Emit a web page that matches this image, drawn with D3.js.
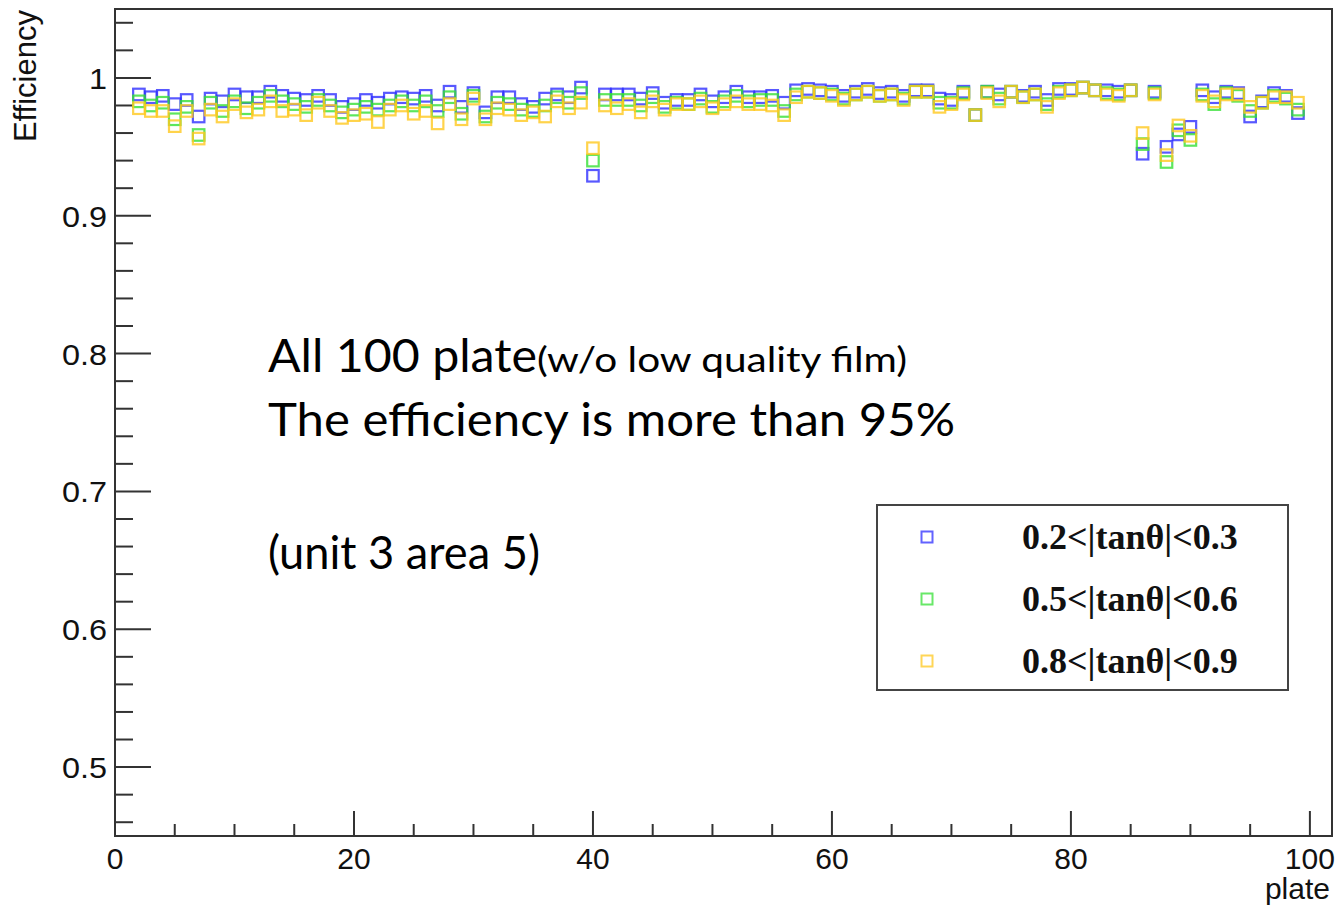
<!DOCTYPE html>
<html><head><meta charset="utf-8">
<script src="https://cdn.jsdelivr.net/npm/d3@7"></script>
<style>
html,body{margin:0;padding:0;background:#fff;}
svg{display:block;}
</style></head>
<body>
<svg id="chart" width="1336" height="909"></svg>
<script>
const plates = [2,3,4,5,6,7,8,9,10,11,12,13,14,15,16,17,18,19,20,21,22,23,24,25,26,27,28,29,30,31,32,33,34,35,36,37,38,39,40,41,42,43,44,45,46,47,48,49,50,51,52,53,54,55,56,57,58,59,60,61,62,63,64,65,66,67,68,69,70,71,72,73,74,75,76,77,78,79,80,81,82,83,84,85,86,87,88,89,90,91,92,93,94,95,96,97,98,99];
const effBlue = [0.988,0.986,0.987,0.981,0.984,0.972,0.985,0.983,0.988,0.986,0.986,0.990,0.987,0.985,0.984,0.987,0.984,0.979,0.981,0.984,0.982,0.985,0.986,0.985,0.987,0.980,0.990,0.979,0.989,0.975,0.986,0.986,0.981,0.979,0.985,0.988,0.986,0.993,0.929,0.988,0.988,0.988,0.985,0.989,0.982,0.984,0.984,0.988,0.983,0.986,0.990,0.986,0.986,0.987,0.982,0.991,0.992,0.991,0.990,0.987,0.990,0.992,0.989,0.990,0.987,0.991,0.991,0.985,0.984,0.990,0.973,0.990,0.988,0.990,0.987,0.990,0.984,0.992,0.992,0.993,0.991,0.991,0.990,0.991,0.945,0.990,0.950,0.959,0.9645,0.991,0.986,0.990,0.989,0.972,0.983,0.989,0.987,0.9745];
const effGreen = [0.983,0.980,0.982,0.970,0.979,0.9586,0.982,0.976,0.983,0.978,0.982,0.987,0.983,0.981,0.979,0.984,0.980,0.975,0.977,0.979,0.977,0.980,0.983,0.980,0.983,0.976,0.986,0.974,0.987,0.972,0.982,0.981,0.977,0.976,0.980,0.986,0.982,0.989,0.940,0.984,0.984,0.984,0.980,0.986,0.979,0.982,0.981,0.985,0.979,0.983,0.987,0.983,0.984,0.984,0.976,0.988,0.990,0.989,0.988,0.985,0.988,0.990,0.987,0.988,0.985,0.990,0.990,0.982,0.982,0.989,0.973,0.990,0.985,0.990,0.986,0.988,0.981,0.990,0.991,0.993,0.991,0.989,0.988,0.991,0.952,0.989,0.939,0.962,0.955,0.988,0.981,0.989,0.987,0.976,0.982,0.987,0.985,0.977];
const effYellow = [0.978,0.976,0.976,0.965,0.976,0.956,0.977,0.972,0.981,0.975,0.977,0.983,0.976,0.977,0.973,0.982,0.976,0.971,0.973,0.974,0.968,0.977,0.980,0.974,0.976,0.967,0.981,0.970,0.985,0.970,0.978,0.977,0.973,0.975,0.972,0.983,0.978,0.982,0.949,0.980,0.978,0.981,0.975,0.983,0.977,0.981,0.981,0.983,0.978,0.981,0.983,0.981,0.981,0.980,0.973,0.986,0.990,0.989,0.987,0.984,0.988,0.990,0.987,0.988,0.984,0.990,0.990,0.979,0.981,0.988,0.973,0.989,0.983,0.990,0.986,0.988,0.979,0.989,0.991,0.993,0.991,0.988,0.987,0.991,0.960,0.988,0.944,0.9655,0.958,0.987,0.983,0.988,0.988,0.979,0.982,0.986,0.986,0.982];
const seriesNames = ["0.2<|tan\u03B8|<0.3","0.5<|tan\u03B8|<0.6","0.8<|tan\u03B8|<0.9"];
const seriesColors = ["#2e2eff","#35e035","#ffc81e"];
const xTicks = [0,20,40,60,80,100];
const yTicks = [0.5,0.6,0.7,0.8,0.9,1];
const yTickLabels = ["0.5","0.6","0.7","0.8","0.9","1"];

const svg = d3.select("#chart");
const L = 115, R = 1332, T = 9, B = 836;
const x = d3.scaleLinear().domain([0,101.85]).range([L,R]);
const y = d3.scaleLinear().domain([0.45,1.05]).range([B,T]);
const axisColor = "#333";

// frame
svg.append("rect").attr("x",L).attr("y",T).attr("width",R-L).attr("height",B-T)
  .attr("fill","none").attr("stroke",axisColor).attr("stroke-width",2);

// x ticks (inside, upward)
const xMinor = d3.range(0,101,5);
svg.append("g").selectAll("line").data(xMinor).join("line")
  .attr("x1",d=>x(d)).attr("x2",d=>x(d)).attr("y1",B)
  .attr("y2",d=>B-(d%20===0?25:12)).attr("stroke",axisColor).attr("stroke-width",2);
// y ticks (inside, rightward)
const yMinor = d3.range(0,31).map(i=>0.46+i*0.02).filter(v=>v<=1.05);
svg.append("g").selectAll("line").data(yMinor).join("line")
  .attr("y1",d=>y(d)).attr("y2",d=>y(d)).attr("x1",L)
  .attr("x2",d=>L+(Math.abs(Math.round(d*10)-d*10)<1e-6?36:18)).attr("stroke",axisColor).attr("stroke-width",2);

const tickFont = "'Liberation Sans', Arial, sans-serif";
svg.append("g").selectAll("text").data(xTicks).join("text")
  .attr("x",d=>x(d)).attr("y",869).attr("text-anchor","middle")
  .attr("font-family",tickFont).attr("font-size",30).attr("fill","#111")
  .text(d=>d);
svg.append("g").selectAll("text").data(yTicks).join("text")
  .attr("x",107).attr("y",d=>y(d)+11).attr("text-anchor","end")
  .attr("font-family",tickFont).attr("font-size",30).attr("fill","#111")
  .style("transform-box","fill-box").style("transform-origin","right").style("transform","scaleX(1.08)")
  .text((d,i)=>yTickLabels[i]);
svg.append("text").attr("x",1330).attr("y",899).attr("text-anchor","end")
  .attr("font-family",tickFont).attr("font-size",30).attr("fill","#111")
  .text("plate");
svg.append("text").attr("transform","translate(36,10) rotate(-90)").attr("text-anchor","end")
  .attr("font-family",tickFont).attr("font-size",31).attr("fill","#111")
  .text("Efficiency");

// markers
const allSeries = [effBlue, effGreen, effYellow];
const ms = 11.5;
allSeries.forEach((vals,si)=>{
  svg.append("g").selectAll("rect").data(plates.map((p,i)=>({p, v:vals[i]}))).join("rect")
    .attr("x",d=>x(d.p)-ms/2).attr("y",d=>y(d.v)-ms/2).attr("width",ms).attr("height",ms)
    .attr("fill","none").attr("stroke",seriesColors[si]).attr("stroke-width",2.2).attr("stroke-opacity",0.8);
});

// legend
const lg = svg.append("g");
lg.append("rect").attr("x",877).attr("y",505).attr("width",411).attr("height",185)
  .attr("fill","#fff").attr("stroke","#444").attr("stroke-width",2);
seriesNames.forEach((n,i)=>{
  const cy = 537 + i*62;
  lg.append("rect").attr("x",927-5.5).attr("y",cy-5.5).attr("width",11).attr("height",11)
    .attr("fill","none").attr("stroke",seriesColors[i]).attr("stroke-width",2).attr("stroke-opacity",0.75);
  lg.append("text").attr("x",1022).attr("y",cy+12)
    .attr("font-family","'Liberation Serif', 'Times New Roman', serif").attr("font-weight","bold")
    .attr("font-size",36).attr("fill","#111").text(n);
});

// annotation
const annFont = "Lato, 'Open Sans', sans-serif";
const t1 = svg.append("text").attr("x",268).attr("y",372).attr("font-family",annFont).attr("fill","#000");
t1.append("tspan").attr("font-size",46).attr("textLength",269).attr("lengthAdjust","spacingAndGlyphs").text("All 100 plate");
t1.append("tspan").attr("font-size",34).attr("textLength",370).attr("lengthAdjust","spacingAndGlyphs").text("(w/o low quality film)");
svg.append("text").attr("x",268).attr("y",436).attr("font-family",annFont).attr("font-size",46)
  .attr("textLength",687).attr("lengthAdjust","spacingAndGlyphs").text("The efficiency is more than 95%");
svg.append("text").attr("x",268).attr("y",569).attr("font-family",annFont).attr("font-size",46)
  .attr("textLength",272).attr("lengthAdjust","spacingAndGlyphs").text("(unit 3 area 5)");
</script>
</body></html>
